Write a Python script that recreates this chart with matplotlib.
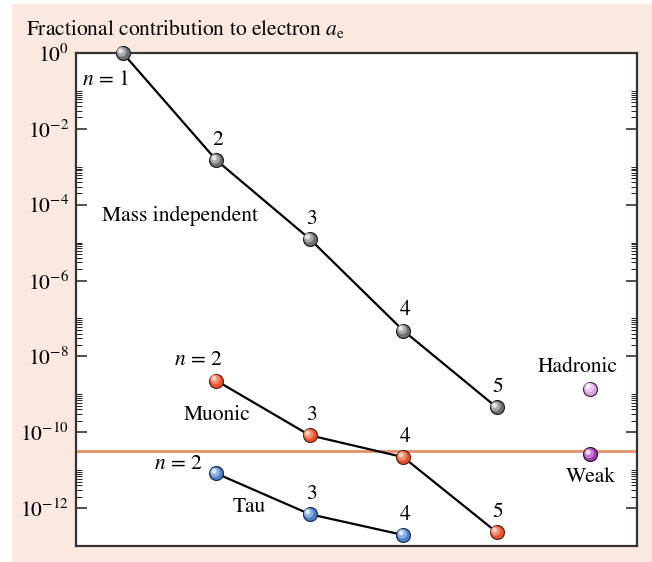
import numpy as np
import matplotlib
matplotlib.use("Agg")
import matplotlib.pyplot as plt
import matplotlib.transforms as mtrans
from matplotlib.patches import Rectangle
from matplotlib.ticker import FixedLocator, NullFormatter, FuncFormatter

plt.rcParams['font.family'] = ['STIXGeneral', 'DejaVu Serif']
plt.rcParams['mathtext.fontset'] = 'stix'

# values (fraction of electron a_e)
mass_n = [1, 2, 3, 4, 5]
mass_vals = [1.0, 1.5e-3, 1.25e-5, 4.8e-8, 4.5e-10]
muon_n = [2, 3, 4, 5]
muon_vals = [2.3e-9, 8.3e-11, 2.2e-11, 2.3e-13]
tau_n = [2, 3, 4]
tau_vals = [8.2e-12, 6.9e-13, 1.95e-13]
other_x = 6
hadronic_val = 1.4e-9
weak_val = 2.6e-11
uncert_line = 3.2e-11

major_exp = [0, -2, -4, -6, -8, -10, -12]

PEACH = '#fbe9e1'

fig = plt.figure(figsize=(6.52, 5.62), dpi=100, facecolor=PEACH)
# white margin at left and top of the page
fig.patches.append(Rectangle((0, 0), 11/652, 1, transform=fig.transFigure,
                             color='white', zorder=-10))
fig.patches.append(Rectangle((0, 1 - 3/562), 1, 3/562, transform=fig.transFigure,
                             color='white', zorder=-10))

ax = fig.add_axes([76/652, 16/562, 561/652, 493/562])
ax.set_facecolor('white')
ax.set_yscale('log')
ax.set_xlim(0.5, 6.5)
ax.set_ylim(1e-13, 1e0)

majors = [10.0**e for e in major_exp]
minors = [m * 10.0**e for e in major_exp for m in range(2, 11) if m * 10.0**e < 1.0]
ax.yaxis.set_major_locator(FixedLocator(majors))
ax.yaxis.set_minor_locator(FixedLocator(minors))
ax.yaxis.set_minor_formatter(NullFormatter())
ax.yaxis.set_major_formatter(FuncFormatter(lambda v, p: r'$10^{%d}$' % round(np.log10(v))))
ax.tick_params(axis='y', which='both', direction='in', left=True, right=True, labelsize=15.5, pad=5)
ax.tick_params(axis='y', which='major', length=8, width=1.1, color='#222222')
ax.tick_params(axis='y', which='minor', length=4.3, width=0.7, color='#222222')
ax.set_xticks([])
for s in ax.spines.values():
    s.set_linewidth(1.6)
    s.set_color('#333333')

ax.axhline(uncert_line, color='#e0906a', lw=2.0, zorder=1)

ax.plot(mass_n, mass_vals, color='black', lw=1.6, zorder=2)
ax.plot(muon_n, muon_vals, color='black', lw=1.6, zorder=2)
ax.plot(tau_n, tau_vals, color='black', lw=1.6, zorder=2)


def balls(x, y, base, mid, light, edge):
    ax.scatter(x, y, s=100, facecolor=base, edgecolor=edge, linewidth=0.9, zorder=4, clip_on=False)
    t1 = mtrans.offset_copy(ax.transData, fig=fig, x=-0.8, y=0.8, units='points')
    ax.scatter(x, y, s=48, facecolor=mid, edgecolor='none', zorder=5, transform=t1, clip_on=False)
    t2 = mtrans.offset_copy(ax.transData, fig=fig, x=-1.5, y=1.5, units='points')
    ax.scatter(x, y, s=13, facecolor=light, edgecolor='none', zorder=6, transform=t2, clip_on=False)


balls(mass_n, mass_vals, '#6e6e6e', '#a8a8a8', '#e4e4e4', '#222222')
balls(muon_n, muon_vals, '#e8502e', '#f8876a', '#ffd0c0', '#5a2a1a')
balls(tau_n, tau_vals, '#4f7fc4', '#8ab0e4', '#dbe8fa', '#1e2e50')
balls([other_x], [hadronic_val], '#d8a2dc', '#ebc8ee', '#fbf0fc', '#4a2a50')
balls([other_x], [weak_val], '#a040b0', '#c77ad4', '#f0d8f4', '#3a1040')

fs = 15.5
# order numbers above points
for n, v in list(zip(mass_n[1:], mass_vals[1:])) + list(zip(muon_n[1:], muon_vals[1:])) + list(zip(tau_n[1:], tau_vals[1:])):
    ax.annotate(str(n), (n, v), xytext=(1, 14.5), textcoords='offset points',
                ha='center', va='center', fontsize=fs)

ax.text(0.565, 10**-0.71, r'$n$ = 1', fontsize=fs, ha='left', va='center')
ax.annotate(r'$n$ = 2', (muon_n[0], muon_vals[0]), xytext=(4.5, 15), textcoords='offset points',
            ha='right', va='center', fontsize=fs)
ax.annotate(r'$n$ = 2', (tau_n[0], tau_vals[0]), xytext=(-10, 6.5), textcoords='offset points',
            ha='right', va='center', fontsize=fs)
ax.text(0.78, 10**-4.29, 'Mass independent', fontsize=fs, ha='left', va='center')
ax.text(2.01, 10**-9.55, 'Muonic', fontsize=fs, ha='center', va='center')
ax.text(2.35, 10**-11.97, 'Tau', fontsize=fs, ha='center', va='center')
ax.text(5.86, 10**-8.29, 'Hadronic', fontsize=fs, ha='center', va='center')
ax.text(6.01, 10**-11.18, 'Weak', fontsize=fs, ha='center', va='center')

fig.text(26/652, 1 - 28/562, r'Fractional contribution to electron $a_{\mathrm{e}}$',
         fontsize=fs, ha='left', va='center')

fig.savefig('out.png', dpi=100, facecolor=PEACH)
